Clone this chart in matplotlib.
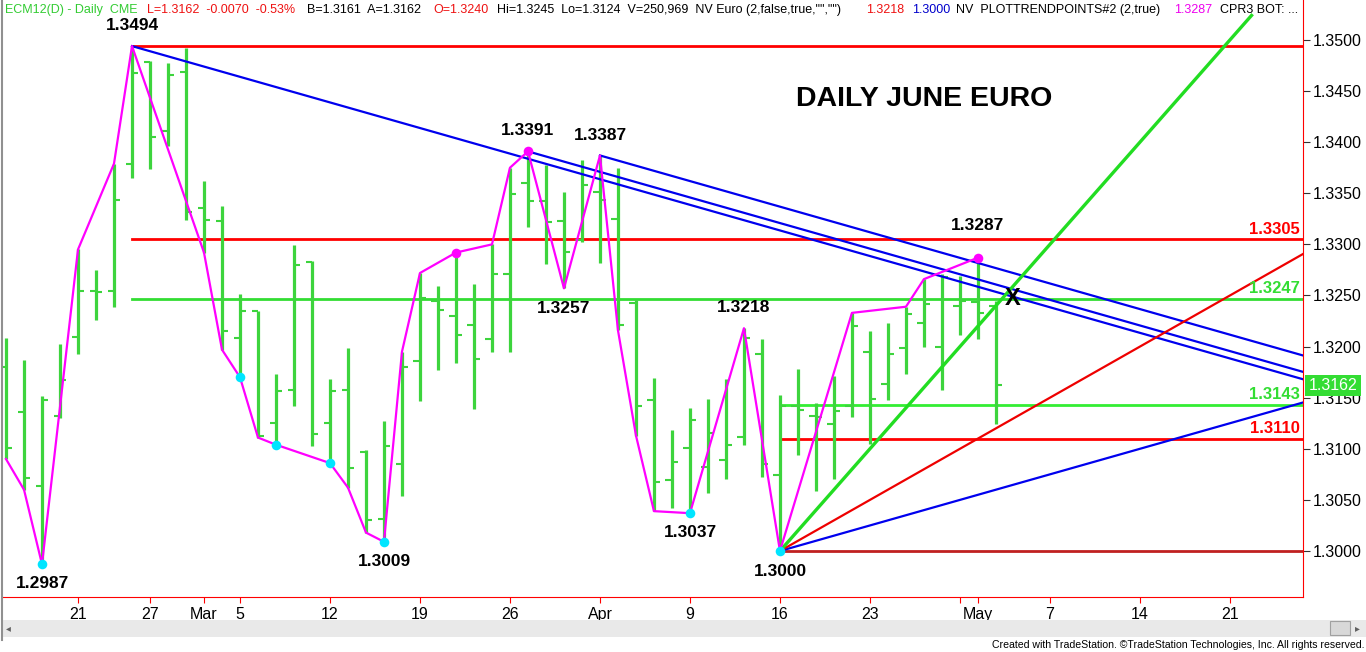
import matplotlib
matplotlib.use("Agg")
import matplotlib.pyplot as plt
from matplotlib.patches import Rectangle
import numpy as np

plt.rcParams['font.family'] = ['Liberation Sans', 'DejaVu Sans']

# daily bars, June euro futures (bar index 0 = Feb 16 2012)
opens = [1.3180, 1.3136, 1.3064, 1.3132, 1.3209, 1.3254, 1.3254, 1.3379, 1.3478, 1.3411,
         1.3469, 1.3336, 1.3323, 1.3208, 1.3235, 1.3125, 1.3158, 1.3283, 1.3125, 1.3158,
         1.3097, 1.3031, 1.3085, 1.3186, 1.3245, 1.3230, 1.3221, 1.3207, 1.3271, 1.3360,
         1.3342, 1.3323, 1.3304, 1.3351, 1.3325, 1.3243, 1.3148, 1.3069, 1.3101, 1.3082,
         1.3089, 1.3112, 1.3193, 1.3074, 1.3142, 1.3132, 1.3124, 1.3142, 1.3195, 1.3163,
         1.3199, 1.3223, 1.3200, 1.3240, 1.3244, 1.3240]
highs = [1.3208, 1.3187, 1.3152, 1.3203, 1.3295, 1.3275, 1.3379, 1.3494, 1.3479, 1.3477,
         1.3492, 1.3362, 1.3338, 1.3251, 1.3235, 1.3173, 1.3299, 1.3284, 1.3168, 1.3199,
         1.3099, 1.3127, 1.3195, 1.3272, 1.3259, 1.3292, 1.3261, 1.3300, 1.3375, 1.3391,
         1.3378, 1.3351, 1.3383, 1.3387, 1.3375, 1.3246, 1.3169, 1.3118, 1.3140, 1.3149,
         1.3168, 1.3218, 1.3207, 1.3153, 1.3178, 1.3145, 1.3171, 1.3233, 1.3215, 1.3223,
         1.3239, 1.3266, 1.3271, 1.3269, 1.3287, 1.3245]
lows = [1.3090, 1.3060, 1.2987, 1.3130, 1.3193, 1.3226, 1.3239, 1.3365, 1.3374, 1.3396,
        1.3324, 1.3292, 1.3197, 1.3170, 1.3111, 1.3104, 1.3142, 1.3103, 1.3086, 1.3062,
        1.3018, 1.3009, 1.3054, 1.3147, 1.3177, 1.3184, 1.3139, 1.3195, 1.3195, 1.3317,
        1.3281, 1.3257, 1.3302, 1.3282, 1.3216, 1.3113, 1.3039, 1.3042, 1.3037, 1.3057,
        1.3070, 1.3104, 1.3072, 1.3000, 1.3094, 1.3059, 1.3070, 1.3131, 1.3105, 1.3148,
        1.3173, 1.3200, 1.3158, 1.3211, 1.3207, 1.3124]
closes = [1.3101, 1.3071, 1.3148, 1.3167, 1.3254, 1.3253, 1.3343, 1.3468, 1.3405, 1.3466,
          1.3332, 1.3324, 1.3215, 1.3235, 1.3113, 1.3157, 1.3280, 1.3114, 1.3157, 1.3081,
          1.3030, 1.3103, 1.3180, 1.3248, 1.3236, 1.3211, 1.3188, 1.3271, 1.3349, 1.3342,
          1.3322, 1.3293, 1.3358, 1.3343, 1.3221, 1.3142, 1.3068, 1.3087, 1.3128, 1.3115,
          1.3104, 1.3208, 1.3085, 1.3142, 1.3138, 1.3131, 1.3137, 1.3220, 1.3149, 1.3193,
          1.3232, 1.3242, 1.3268, 1.3245, 1.3233, 1.3162]

# swing line (PLOTTRENDPOINTS)
swing_idx = [0, 1, 2, 4, 6, 7, 11, 12, 13, 14, 15, 18, 19, 20, 21, 22, 23, 25, 27, 28, 29,
             31, 33, 34, 35, 36, 38, 41, 43, 47, 50, 51, 54]
swing_px = [1.3090, 1.3060, 1.2987, 1.3295, 1.3379, 1.3494, 1.3292, 1.3197, 1.3170, 1.3111,
            1.3104, 1.3086, 1.3062, 1.3018, 1.3009, 1.3195, 1.3272, 1.3292, 1.3300, 1.3375,
            1.3391, 1.3257, 1.3387, 1.3216, 1.3113, 1.3039, 1.3037, 1.3218, 1.3000, 1.3233,
            1.3239, 1.3266, 1.3287]
low_dots = [2, 13, 15, 18, 21, 38, 43]
high_dots = [25, 29, 54]

# annotated swing points: bar, label, offset from the price
swing_labels = [(7, "1.3494", 0.0020), (2, "1.2987", -0.0019), (21, "1.3009", -0.0019),
                (29, "1.3391", 0.0020), (33, "1.3387", 0.0020), (31, "1.3257", -0.0020),
                (41, "1.3218", 0.0020), (38, "1.3037", -0.0019), (43, "1.3000", -0.0020),
                (54, "1.3287", 0.0031)]

# support / resistance levels
levels_long = [1.3494, 1.3305, 1.3247]     # from the 1.3494 top
levels_short = [1.3143, 1.3110, 1.3000]    # from the 1.3000 bottom
level_colors_long = ['#ff0000', '#ff0000', '#33dd33']
level_colors_short = ['#33ee33', '#ff0000', '#c02020']

# downtrend channel: start bar, start price, slope per bar
chan_start = [7, 29, 33]
chan_price = [1.3494, 1.3391, 1.3387]
chan_slope = -0.000501

# angles from the 1.3000 low
fan_slopes = [0.0005, 0.0010, 0.0020]
fan_colors = ['#0000ee', '#ee0000', '#22dd22']

xtick_pos = [4, 8, 11, 13, 18, 23, 28, 33, 38, 43, 48, 53, 54, 58, 63, 68]
xtick_lab = ['21', '27', 'Mar', '5', '12', '19', '26', 'Apr', '9', '16', '23', '', 'May', '7', '14', '21']
yticks = [1.3000, 1.3050, 1.3100, 1.3150, 1.3200, 1.3250, 1.3300, 1.3350, 1.3400, 1.3450, 1.3500]

W, H = 1366, 652
fig = plt.figure(figsize=(W / 100, H / 100), dpi=100)
ax = fig.add_axes([3 / W, 55 / H, 1300 / W, 597 / H])
xr = 72.06
ax.set_xlim(-0.167, xr)
ax.set_ylim(1.2955, 1.35391)

bar_green = '#3dd43d'
x = np.arange(len(opens))

# levels
for lv, c in zip(levels_long, level_colors_long):
    ax.plot([7, xr], [lv, lv], color=c, lw=2, zorder=1)
for lv, c in zip(levels_short, level_colors_short):
    ax.plot([43, xr], [lv, lv], color=c, lw=2, zorder=1)

# bars
ax.vlines(x, lows, highs, color=bar_green, lw=2.3, zorder=2)
ax.hlines(opens, x - 0.36, x, color=bar_green, lw=1.5, zorder=2)
ax.hlines(closes, x, x + 0.36, color=bar_green, lw=1.5, zorder=2)

# channel
for s, p in zip(chan_start, chan_price):
    ax.plot([s, xr], [p, p + chan_slope * (xr - s)], color='#0000ee', lw=1.6, zorder=3)

# fan
for sl, c in zip(fan_slopes, fan_colors):
    xe = xr if sl < 0.002 else 69.2
    ax.plot([43, xe], [1.3000, 1.3000 + sl * (xe - 43)], color=c,
            lw=2.4 if sl >= 0.002 else 1.6, zorder=3)

# swing line
ax.plot(swing_idx, swing_px, color='#ff00ff', lw=1.6, zorder=4)
ax.scatter(low_dots, [lows[i] for i in low_dots], s=48, color='#00e5ff', zorder=5, lw=0)
ax.scatter(high_dots, [highs[i] for i in high_dots], s=48, color='#ff00ff', zorder=5, lw=0)

for i, t, off in swing_labels:
    ax.text(i, float(t) + off, t, ha='center', va='center', fontsize=12.5,
            fontweight='bold', color='black', zorder=6)

ax.text(51, 1.34423, "DAILY JUNE EURO", ha='center', va='center', fontsize=20.5,
        fontweight='bold', color='black')
ax.text(55.94, 1.32475, "X", ha='center', va='center', fontsize=17, fontweight='bold',
        color='black', zorder=6)

# right side level labels
for lv, t, c in [(1.3305, "1.3305", '#ff0000'), (1.3247, "1.3247", '#33dd33'),
                 (1.3143, "1.3143", '#33dd33'), (1.3110, "1.3110", '#ff0000')]:
    ax.text(0.9975, lv + 0.00025, t, transform=ax.get_yaxis_transform(), ha='right',
            va='bottom', fontsize=12, fontweight='bold', color=c)

# axes styling
for s in ['top', 'left']:
    ax.spines[s].set_visible(False)
ax.spines['right'].set_color('#ff0000')
ax.spines['bottom'].set_color('#ff0000')
ax.yaxis.tick_right()
ax.set_yticks(yticks)
ax.set_yticklabels(["%.4f" % v for v in yticks])
ax.tick_params(axis='y', length=5, color='#333333', labelsize=11.5, pad=2)
ax.set_xticks(xtick_pos)
ax.set_xticklabels(xtick_lab)
ax.tick_params(axis='x', length=4, color='#ff0000', labelsize=11.5, pad=3)

# last price box
ax.annotate("1.3162", xy=(1.0, closes[-1]), xycoords=ax.get_yaxis_transform(),
            xytext=(4, 0), textcoords='offset points', ha='left', va='center',
            fontsize=11.5, color='white', zorder=10, annotation_clip=False,
            bbox=dict(boxstyle='square,pad=0.2', fc='#33dd33', ec='none'))

# header line
header = [(5, "ECM12(D) - Daily  CME", '#33cc33'),
          (147, "L=1.3162  -0.0070  -0.53%", '#ee1111'),
          (307, "B=1.3161  A=1.3162", 'black'),
          (433, "O=1.3240", '#ee1111'),
          (497, "Hi=1.3245  Lo=1.3124  V=250,969  NV Euro (2,false,true,\"\",\"\")", 'black'),
          (866, "1.3218", '#ee1111'),
          (912, "1.3000", '#0000cc'),
          (956, "NV  PLOTTRENDPOINTS#2 (2,true)", 'black'),
          (1174, "1.3287", '#ee00ee'),
          (1220, "CPR3 BOT: ...", 'black')]
for px, t, c in header:
    fig.text(px / W, 1 - 10 / H, t, ha='left', va='center', fontsize=9, color=c)

# window chrome: left border, scrollbar, footer
fig.add_artist(plt.Line2D([2 / W, 2 / W], [1 - 640 / H, 1], color='#909090', lw=1.5))
fig.add_artist(Rectangle((3 / W, 1 - 637 / H), 1 - 3 / W, 17 / H, facecolor='#e9e9e9',
                         edgecolor='none'))
fig.add_artist(Rectangle((1330 / W, 1 - 635 / H), 20 / W, 14 / H, facecolor='#d8d8d8',
                         edgecolor='#a0a0a0', lw=0.8))
fig.text(8 / W, 1 - 628 / H, "\u25c2", fontsize=7, color='#606060', ha='center', va='center',
         family='DejaVu Sans')
fig.text(1357 / W, 1 - 628 / H, "\u25b8", fontsize=7, color='#606060', ha='center', va='center',
         family='DejaVu Sans')
fig.text(1364 / W, 1 - 645 / H,
         "Created with TradeStation. \u00a9TradeStation Technologies, Inc. All rights reserved.",
         ha='right', va='center', fontsize=7.6, color='black')

fig.savefig("out.png", dpi=100, facecolor='white')
